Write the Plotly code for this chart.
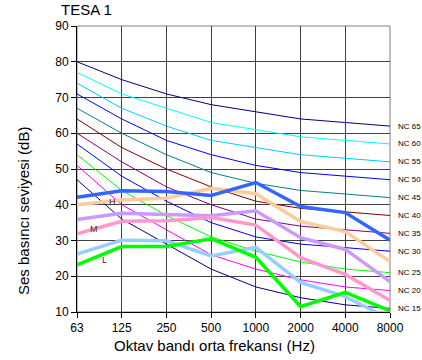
import plotly.graph_objects as go

freqs = ["63", "125", "250", "500", "1000", "2000", "4000", "8000"]

# NC reference curves (dB)
nc_names = ["NC 65", "NC 60", "NC 55", "NC 50", "NC 45", "NC 40",
            "NC 35", "NC 30", "NC 25", "NC 20", "NC 15"]
nc65 = [80, 75, 71, 68, 66, 64, 63, 62]
nc60 = [77, 71, 67, 63, 61, 59, 58, 57]
nc55 = [74, 67, 62, 58, 56, 54, 53, 52]
nc50 = [71, 64, 58, 54, 51, 49, 48, 47]
nc45 = [67, 60, 54, 49, 46, 44, 43, 42]
nc40 = [64, 56, 50, 45, 41, 39, 38, 37]
nc35 = [60, 52, 45, 40, 36, 34, 33, 32]
nc30 = [57, 48, 41, 35, 31, 29, 28, 27]
nc25 = [54, 44, 37, 31, 27, 24, 22, 21]
nc20 = [51, 40, 33, 26, 22, 19, 17, 16]
nc15 = [47, 36, 29, 22, 17, 14, 12, 11]
nc_colors = ["#000080", "#00FFFF", "#00CCFF", "#0000FF", "#008080", "#800000",
             "#800080", "#0000FF", "#00FF00", "#FF00FF", "#000080"]

# Measured series (dB)
series_orange = [40.0, 41.3, 41.8, 44.6, 43.1, 35.3, 32.5, 24.1]
series_blue = [42.1, 43.9, 43.7, 42.6, 46.2, 39.5, 37.8, 30.1]
series_lavender = [35.9, 37.6, 37.3, 36.9, 38.3, 30.8, 27.5, 18.5]
series_pink = [31.9, 35.4, 35.5, 36.4, 34.3, 25.2, 20.5, 13.2]
series_lightblue = [26.2, 30.1, 29.9, 25.7, 28.1, 18.3, 14.3, 8.0]
series_green = [23.2, 28.3, 28.3, 30.5, 25.3, 11.5, 15.5, 10.3]

series_list = [series_orange, series_blue, series_lavender, series_pink,
               series_lightblue, series_green]
series_colors = ["#FFCC99", "#3366FF", "#CC99FF", "#FF99CC", "#99CCFF", "#00FF00"]

# Band markers
band_labels = ["H", "M", "L"]
band_x = [0.80, 0.39, 0.61]
band_y = [40.7, 33.1, 24.5]

y_ticks = [10, 20, 30, 40, 50, 60, 70, 80, 90]

FONT = "Arial, Liberation Sans, sans-serif"

W, H = 422, 360
PL, PR, PT, PB = 77, 390, 26, 312  # plot box in window pixels
PW, PH = PR - PL, PB - PT

fig = go.Figure()

nc_curves = [nc65, nc60, nc55, nc50, nc45, nc40, nc35, nc30, nc25, nc20, nc15]
for name, vals, col in zip(nc_names, nc_curves, nc_colors):
    fig.add_trace(go.Scatter(x=freqs, y=vals, mode="lines",
                             line=dict(color=col, width=1), name=name,
                             showlegend=False, hoverinfo="skip"))

for vals, col in zip(series_list, series_colors):
    fig.add_trace(go.Scatter(x=freqs, y=vals, mode="lines",
                             line=dict(color=col, width=3.5),
                             showlegend=False))

annotations = []
for name, vals in zip(nc_names, nc_curves):
    annotations.append(dict(x=7, y=vals[-1], xref="x", yref="y", text=name,
                            showarrow=False, xanchor="left", yanchor="middle",
                            xshift=6, font=dict(family=FONT, size=8, color="#000")))
for t, bx, by in zip(band_labels, band_x, band_y):
    annotations.append(dict(x=bx, y=by, xref="x", yref="y", text=t,
                            showarrow=False, font=dict(family=FONT, size=9, color="#333")))

annotations.append(dict(x=(23 - PL) / PW, y=1 - (211 - PT) / PH, xref="paper", yref="paper",
                        text="Ses basıncı seviyesi (dB)", textangle=-90, showarrow=False,
                        xanchor="center", yanchor="middle",
                        font=dict(family=FONT, size=15, color="#000")))
annotations.append(dict(x=(214 - PL) / PW, y=-(345 - PB) / PH, xref="paper", yref="paper",
                        text="Oktav bandı orta frekansı (Hz)", showarrow=False,
                        xanchor="center", yanchor="middle",
                        font=dict(family=FONT, size=15, color="#000")))

fig.update_layout(
    width=W, height=H,
    margin=dict(l=PL, r=W - PR, t=PT, b=H - PB),
    paper_bgcolor="white", plot_bgcolor="white",
    font=dict(family=FONT, size=12, color="#000"),
    title=dict(text="TESA 1", x=61 / W, xanchor="left",
               y=1 - 10 / H, yanchor="middle",
               font=dict(family=FONT, size=15, color="#000")),
    annotations=annotations,
    shapes=[dict(type="rect", xref="paper", yref="paper", x0=0, x1=1, y0=0, y1=1,
                 line=dict(color="#808080", width=1), layer="below")],
)
fig.update_xaxes(type="category", categoryorder="array", categoryarray=freqs,
                 range=[0, 7], showgrid=True, gridcolor="#404040", gridwidth=1,
                 showline=True, linecolor="#000", linewidth=1,
                 ticks="outside", ticklen=5, tickcolor="#000",
                 tickfont=dict(family=FONT, size=12, color="#000"), zeroline=False)
fig.update_yaxes(range=[10, 90], tickvals=y_ticks, showgrid=True, gridcolor="#404040",
                 gridwidth=1, showline=True, linecolor="#000", linewidth=1,
                 ticks="outside", ticklen=5, tickcolor="#000",
                 tickfont=dict(family=FONT, size=12, color="#000"), zeroline=False)

fig.write_html("out.html",
               config={"displayModeBar": False},
               post_script="document.body.style.margin='0';document.body.style.overflow='hidden';")
